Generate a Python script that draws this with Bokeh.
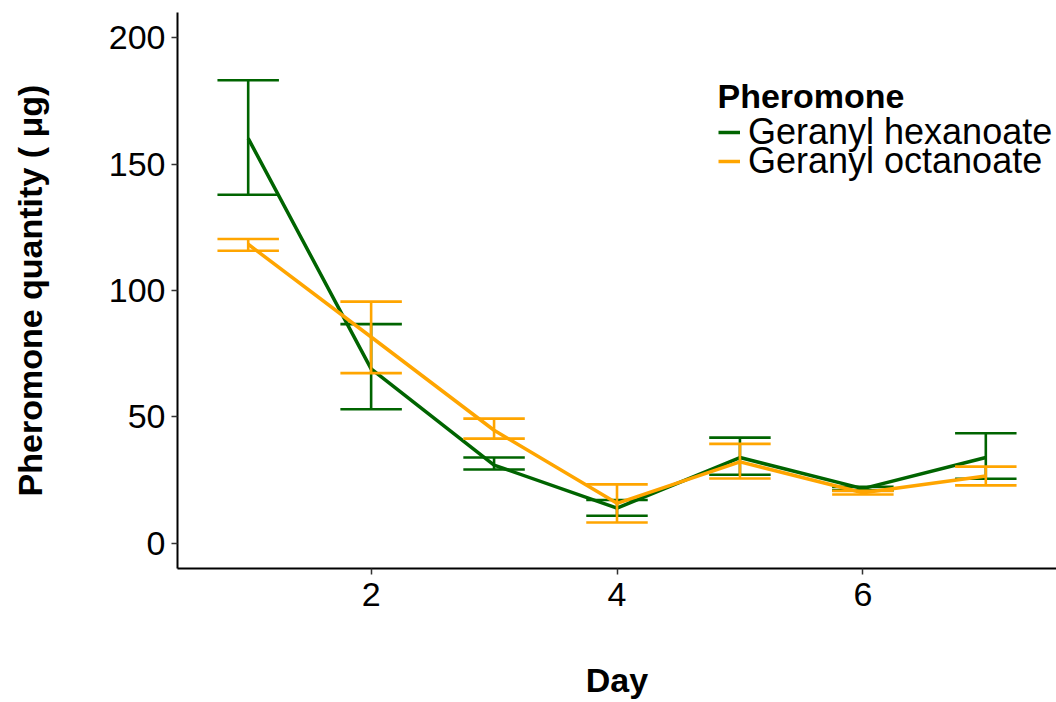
from bokeh.plotting import figure
from bokeh.models import Range1d, FixedTicker, Legend, LegendItem, ColumnDataSource, Label
from bokeh.embed import file_html
from bokeh.resources import INLINE

# Mean pheromone quantity (µg) per day with error-bar limits
days = [1, 2, 3, 4, 5, 6, 7]

hex_mean = [160.2, 69.0, 30.9, 13.9, 33.9, 21.6, 33.9]
hex_low = [137.9, 53.0, 29.2, 10.9, 27.1, 20.9, 25.5]
hex_high = [183.2, 86.7, 33.9, 17.1, 41.8, 22.3, 43.5]

oct_mean = [118.3, 81.6, 44.7, 15.8, 32.2, 20.0, 26.6]
oct_low = [115.7, 67.3, 41.4, 8.2, 25.6, 19.3, 22.9]
oct_high = [120.4, 95.6, 49.3, 23.3, 39.3, 20.7, 30.3]

series_names = ["Geranyl hexanoate", "Geranyl octanoate"]
series_colors = ["#006400", "#FFA500"]
legend_title = "Pheromone"

x_ticks = [2, 4, 6]
y_ticks = [0, 50, 100, 150, 200]

FONT = "Liberation Sans"
CAP = 0.25  # half width of error-bar caps, in days

p = figure(
    width=1056, height=702,
    output_backend="svg", toolbar_location=None,
    x_range=Range1d(0.425, 7.575), y_range=Range1d(-10, 210),
    min_border_left=177, min_border_right=0,
    min_border_top=12, min_border_bottom=134,
)
p.outline_line_color = None
p.xgrid.visible = False
p.ygrid.visible = False
p.background_fill_color = "white"
p.border_fill_color = "white"

renderers = []
for mean, low, high, color in [
    (hex_mean, hex_low, hex_high, series_colors[0]),
    (oct_mean, oct_low, oct_high, series_colors[1]),
]:
    src = ColumnDataSource(dict(
        x=days, y=mean, lo=low, hi=high,
        xl=[d - CAP for d in days], xr=[d + CAP for d in days],
    ))
    line = p.line("x", "y", source=src, line_color=color, line_width=3.5)
    p.segment("x", "lo", "x", "hi", source=src, line_color=color, line_width=2.6)
    p.segment("xl", "lo", "xr", "lo", source=src, line_color=color, line_width=2.6)
    p.segment("xl", "hi", "xr", "hi", source=src, line_color=color, line_width=2.6)
    renderers.append(line)

for ax in (p.xaxis[0], p.yaxis[0]):
    ax.axis_line_color = "black"
    ax.axis_line_width = 2
    ax.major_tick_line_color = "#333333"
    ax.major_tick_line_width = 1.5
    ax.major_tick_out = 6
    ax.major_tick_in = 0
    ax.minor_tick_line_color = None
    ax.major_label_text_font = FONT
    ax.major_label_text_font_size = "34px"
    ax.major_label_text_color = "black"
    ax.axis_label_text_font = FONT
    ax.axis_label_text_font_size = "34px"
    ax.axis_label_text_font_style = "bold"
    ax.axis_label_text_color = "black"

p.xaxis.ticker = FixedTicker(ticks=x_ticks)
p.yaxis.ticker = FixedTicker(ticks=y_ticks)
p.xaxis.axis_label = "Day"
p.yaxis.axis_label = "Pheromone quantity ( μg)"
p.xaxis.major_label_standoff = 8
p.yaxis.major_label_standoff = 6
p.xaxis.axis_label_standoff = 52
p.yaxis.axis_label_standoff = 57

# Legend: bold title plus one tightly stacked entry per series
p.add_layout(Label(
    x=540, y=473, x_units="screen", y_units="screen", text=legend_title,
    text_font=FONT, text_font_size="34px", text_font_style="bold",
    text_color="black", text_baseline="middle", text_align="left",
))
for (name, rend), y_pos in zip(zip(series_names, renderers), (415, 386)):
    leg = Legend(
        items=[LegendItem(label=name, renderers=[rend])],
        location=(541, y_pos),
        label_text_font=FONT, label_text_font_size="36px", label_text_color="black",
        glyph_width=22, glyph_height=20, label_standoff=8,
        spacing=0, padding=0, margin=0,
        border_line_color=None, background_fill_alpha=0,
    )
    p.add_layout(leg)

open("out.html", "w").write(file_html(p, INLINE))
